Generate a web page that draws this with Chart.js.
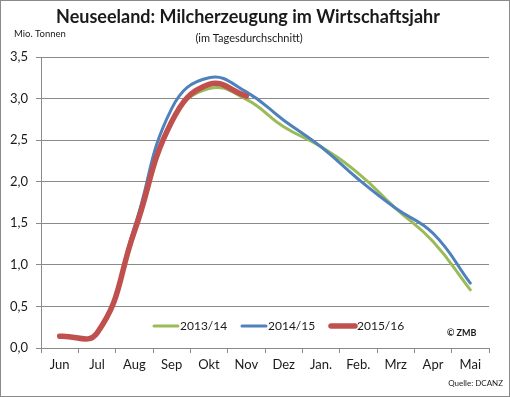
<!DOCTYPE html>
<html>
<head>
<meta charset="utf-8">
<script src="https://cdn.jsdelivr.net/npm/chart.js@4.4.0/dist/chart.umd.min.js"></script>
<style>
  html, body { margin: 0; padding: 0; background: #fff; }
  #wrap { position: relative; width: 510px; height: 397px; }
</style>
</head>
<body>
<div id="wrap"><canvas id="chart" width="510" height="397"></canvas></div>
<script>
const months = ["Jun", "Jul", "Aug", "Sep", "Okt", "Nov", "Dez", "Jan.", "Feb.", "Mrz", "Apr", "Mai"];
const season1314 = [0.14, 0.18, 1.40, 2.74, 3.12, 2.99, 2.66, 2.42, 2.10, 1.68, 1.28, 0.70];
const season1415 = [0.14, 0.18, 1.45, 2.88, 3.25, 3.08, 2.74, 2.42, 2.03, 1.68, 1.38, 0.78];
const season1516 = [0.14, 0.18, 1.40, 2.72, 3.17, 3.03, null, null, null, null, null, null];
const yTicks = [0, 0.5, 1.0, 1.5, 2.0, 2.5, 3.0, 3.5];

const FONT = "Lato, 'Open Sans', sans-serif";
const TEXT = "#1a1a1a";

// texts around the plot + legend inside the plot area
const decorations = {
  id: "decorations",
  afterDraw(chart) {
    const c = chart.ctx;
    c.save();
    c.strokeStyle = "#8a8a8a";
    c.lineWidth = 1;
    c.strokeRect(0.5, 0.5, chart.width - 1, chart.height - 1);

    c.fillStyle = TEXT;
    c.textBaseline = "middle";
    c.textAlign = "center";
    c.font = "bold 18px " + FONT;
    c.fillText("Neuseeland: Milcherzeugung im Wirtschaftsjahr", 248, 17);
    c.font = "11px " + FONT;
    c.fillText("(im Tagesdurchschnitt)", 249, 38);
    c.textAlign = "left";
    c.font = "9.5px " + FONT;
    c.fillText("Mio. Tonnen", 14, 34);

    // legend
    const ds = chart.data.datasets;
    const items = [
      { i: 2, x: 154 },
      { i: 1, x: 242 },
      { i: 0, x: 331 }
    ];
    const ly = 326;
    c.font = "12px " + FONT;
    items.forEach(it => {
      const d = ds[it.i];
      c.strokeStyle = d.borderColor;
      c.lineWidth = d.borderWidth;
      c.lineCap = "round";
      c.beginPath();
      c.moveTo(it.x, ly);
      c.lineTo(it.x + 24, ly);
      c.stroke();
      c.fillStyle = TEXT;
      c.fillText(d.label, it.x + 26, ly);
    });

    c.font = "bold 9px " + FONT;
    c.fillText("\u00A9 ZMB", 447, 333);
    c.font = "8px " + FONT;
    c.textAlign = "right";
    c.fillText("Quelle: DCANZ", 503, 383);
    c.restore();
  }
};

new Chart(document.getElementById("chart"), {
  type: "line",
  data: {
    labels: months,
    datasets: [
      { label: "2015/16", data: season1516, borderColor: "#C0504D", borderWidth: 5.5, order: 0 },
      { label: "2014/15", data: season1415, borderColor: "#4F81BD", borderWidth: 3, order: 1 },
      { label: "2013/14", data: season1314, borderColor: "#9BBB59", borderWidth: 3, order: 2 }
    ].map(d => Object.assign(d, { pointRadius: 0, tension: 0.45, fill: false, borderCapStyle: "round", spanGaps: false }))
  },
  options: {
    responsive: false,
    animation: false,
    layout: { padding: { top: 57, right: 21, bottom: 0, left: 0 } },
    plugins: {
      legend: { display: false },
      tooltip: { enabled: false }
    },
    scales: {
      x: {
        offset: true,
        grid: { offset: true, drawOnChartArea: false, drawTicks: true, tickLength: 5, color: "#8a8a8a" },
        border: { color: "#8a8a8a" },
        ticks: { color: TEXT, font: { family: FONT, size: 13 }, padding: 4, maxRotation: 0, autoSkip: false },
        afterFit(scale) { scale.height = 49; }
      },
      y: {
        min: 0,
        max: 3.5,
        afterBuildTicks(scale) { scale.ticks = yTicks.map(v => ({ value: v })); },
        grid: { color: "#8a8a8a", tickLength: 5 },
        border: { color: "#8a8a8a" },
        ticks: {
          color: TEXT,
          font: { family: FONT, size: 13 },
          padding: 8,
          callback: v => v.toFixed(1).replace(".", ",")
        },
        afterFit(scale) { scale.width = 41; }
      }
    }
  },
  plugins: [decorations]
});
</script>
</body>
</html>
